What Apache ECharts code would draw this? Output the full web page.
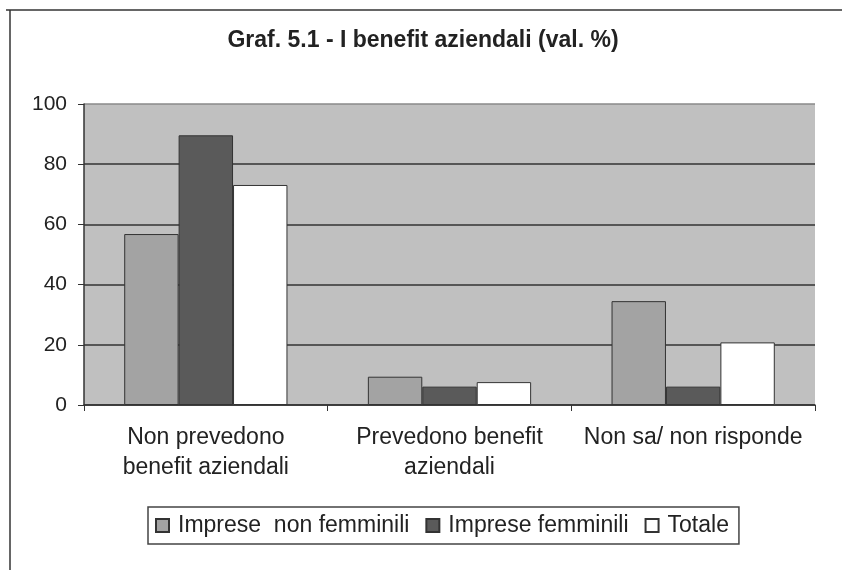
<!DOCTYPE html>
<html>
<head>
<meta charset="utf-8">
<script src="https://cdn.jsdelivr.net/npm/echarts@6/dist/echarts.min.js"></script>
<style>
html,body{margin:0;padding:0;background:#fff;}
#chart{width:842px;height:570px;}
</style>
</head>
<body>
<div id="chart"></div>
<script>
var fontFamily='"Liberation Sans",Arial,Helvetica,sans-serif';
var categories=['Non prevedono\nbenefit aziendali','Prevedono benefit\naziendali','Non sa/ non risponde'];
var nonFemminili=[56.8,9.4,34.5];
var femminili=[89.6,6.1,6.1];
var totale=[73.1,7.6,20.8];
var seriesNames=['Imprese  non femminili','Imprese femminili','Totale'];
var seriesColors=['#a3a3a3','#5a5a5a','#ffffff'];

var chart=echarts.init(document.getElementById('chart'));
function barSeries(name,data,color){
    return {
        name:name,
        type:'bar',
        data:data,
        barGap:'0%',
        barCategoryGap:'33%',
        itemStyle:{color:color,borderColor:'#333',borderWidth:1},
        emphasis:{disabled:true}
    };
}
var option={
    animation:false,
    title:{
        text:'Graf. 5.1 - I benefit aziendali (val. %)',
        left:418,
        textAlign:'center',
        top:24,
        textStyle:{fontFamily:fontFamily,fontSize:23,fontWeight:'bold',color:'#222'}
    },
    legend:{
        data:seriesNames,
        icon:'rect',
        left:148,
        top:507,
        padding:[7,10,7,7],
        itemGap:16,
        itemWidth:13,
        itemHeight:13,
        borderColor:'#444',
        borderWidth:1.5,
        textStyle:{fontFamily:fontFamily,fontSize:23,color:'#222',padding:[0,0,0,4]}
    },
    grid:{left:84,right:27,top:104,bottom:165,containLabel:false,
        show:true,backgroundColor:'#c0c0c0',borderWidth:0},
    xAxis:{
        type:'category',
        data:categories,
        axisLine:{lineStyle:{color:'#333',width:1.5}},
        axisTick:{show:true,length:6,lineStyle:{color:'#333'}},
        axisLabel:{interval:0,fontFamily:fontFamily,fontSize:23,color:'#222',margin:18,lineHeight:30}
    },
    yAxis:{
        type:'value',
        min:0,
        max:100,
        interval:20,
        axisLine:{show:true,lineStyle:{color:'#333',width:1.5}},
        axisTick:{show:true,length:6,lineStyle:{color:'#333'}},
        axisLabel:{fontFamily:fontFamily,fontSize:21,color:'#222',margin:17},
        splitLine:{show:true,lineStyle:{color:['#333','#333','#333','#333','#333','#8a8a8a'],width:1.5}}
    },
    graphic:[
        {type:'line',shape:{x1:6,y1:10,x2:842,y2:10},style:{stroke:'#333',lineWidth:1.5}},
        {type:'line',shape:{x1:10,y1:10,x2:10,y2:570},style:{stroke:'#333',lineWidth:1.5}}
    ],
    series:[
        barSeries(seriesNames[0],nonFemminili,seriesColors[0]),
        barSeries(seriesNames[1],femminili,seriesColors[1]),
        barSeries(seriesNames[2],totale,seriesColors[2])
    ]
};
chart.setOption(option);
</script>
</body>
</html>
